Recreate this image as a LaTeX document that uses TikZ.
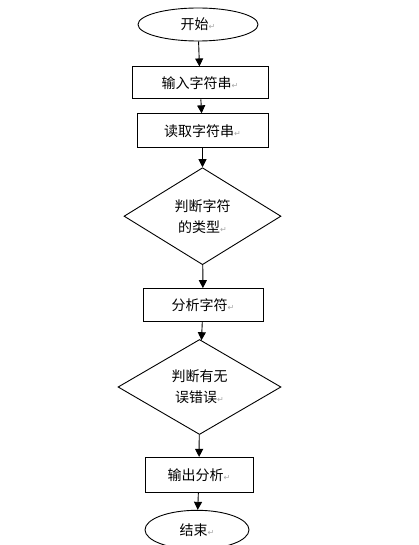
\documentclass[tikz,border=0pt]{standalone}
\usepackage{fontspec}
\setmainfont{Noto Sans CJK SC}
\newfontfamily\symfont{DejaVu Sans}
\usetikzlibrary{shapes.geometric,arrows.meta,positioning}
% paragraph mark shown after each text
\newcommand{\retmark}{{\symfont\fontsize{8}{8}\selectfont\textcolor{black!35}{↵}}}

\begin{document}
\begin{tikzpicture}[%
    x=1pt, y=-1pt,
    >={Triangle[length=8pt,width=8pt]}, % filled arrow heads
    every node/.style={font=\fontsize{14}{21}\selectfont},
    ]
% -------------------------------------------------
% Box styles
\tikzset{
  base/.style={draw, line width=0.9pt, align=center, inner sep=0pt},
  term/.style={base, ellipse},
  proc/.style={base, rectangle},
  test/.style={base, diamond},
  flow/.style={->, draw, line width=0.9pt}
}
\useasboundingbox (0,0) rectangle (418,545);
% -------------------------------------------------
% Nodes, top to bottom
\node [term, minimum width=120pt, minimum height=33pt] (start) at (198,24.5) {开始\retmark};
\node [proc, minimum width=136pt, minimum height=32pt, below=25pt of start, xshift=2pt] (input) {输入字符串\retmark};
\node [proc, minimum width=131pt, minimum height=34pt, below=14pt of input, xshift=2.5pt] (read) {读取字符串\retmark};
\node [test, minimum width=157pt, minimum height=97pt, below=19pt of read] (type) {判断字符\\的类型\retmark};
\node [proc, minimum width=120pt, minimum height=33pt, below=23pt of type, xshift=0.5pt] (parse) {分析字符\retmark};
\node [test, minimum width=163pt, minimum height=95pt, below=17pt of parse, xshift=-3.5pt] (check) {判断有无\\误错误\retmark};
\node [proc, minimum width=108pt, minimum height=35pt, below=22pt of check, xshift=-0.5pt] (output) {输出分析\retmark};
\node [term, minimum width=104pt, minimum height=39pt, below=17pt of output, xshift=-2pt] (stop) {结束\retmark};

% Connectors
\draw[flow] (start) -- (input);
\draw[flow] (input) -- (read);
\draw[flow] (read) -- (type);
\draw[flow] (type) -- (parse);
\draw[flow] (parse) -- (check);
\draw[flow] (check) -- (output);
\draw[flow] (output) -- (stop);
% -------------------------------------------------
\end{tikzpicture}
\end{document}
